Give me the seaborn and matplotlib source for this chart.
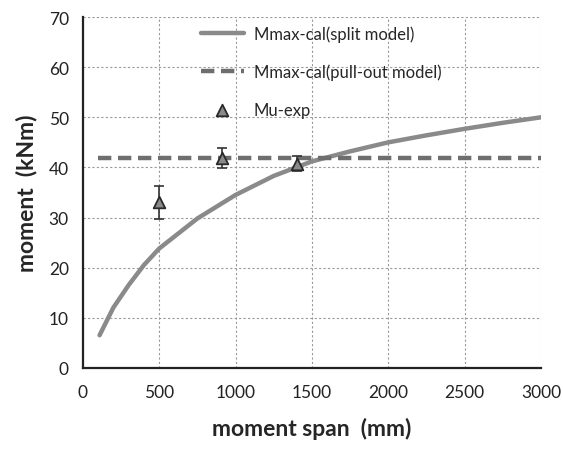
import matplotlib
matplotlib.use("Agg")
import matplotlib.pyplot as plt
import seaborn as sns
import pandas as pd

# split model curve
split_x = [110, 200, 300, 400, 500, 600, 750, 1000, 1250, 1500, 1750, 2000, 2250, 2500, 2750, 3000]
split_y = [6.5, 12.0, 16.5, 20.5, 23.8, 26.2, 29.8, 34.5, 38.3, 41.2, 43.2, 45.0, 46.4, 47.7, 48.9, 50.0]
# pull-out model (constant)
pull_x = [100, 3000]
pull_y = [41.8, 41.8]
# experiments
exp_x = [500, 910, 1400]
exp_y = [33.0, 41.8, 40.7]
exp_err = [3.2, 2.0, 1.5]

sns.set_style("white")
plt.rcParams['font.family'] = ['Lato', 'DejaVu Sans']

fig = plt.figure(figsize=(5.63, 4.52), dpi=100)
ax = fig.add_axes([0.147, 0.184, 0.814, 0.776])

sns.lineplot(x=split_x, y=split_y, ax=ax, color="#8a8a8a", linewidth=3.2,
             label="Mmax-cal(split model)")
sns.lineplot(x=pull_x, y=pull_y, ax=ax, color="#6e6e6e", linewidth=3.2,
             linestyle=(0, (3, 1.5)), label="Mmax-cal(pull-out model)")
ax.errorbar(exp_x, exp_y, yerr=exp_err, fmt="none", ecolor="#333333",
            elinewidth=1.2, capsize=3.5, capthick=1.2)
sns.scatterplot(x=exp_x, y=exp_y, ax=ax, marker="^", s=70, color="#8a8a8a",
                edgecolor="#2a2a2a", linewidth=1.3, label="Mu-exp", zorder=5)

ax.set_xlim(0, 3000)
ax.set_ylim(0, 70)
ax.set_xticks(range(0, 3001, 500))
ax.set_yticks(range(0, 71, 10))
ax.grid(True, linestyle=(0, (2, 2)), color="#999999", linewidth=0.8)
for s in ["top", "right"]:
    ax.spines[s].set_visible(False)
for s in ["left", "bottom"]:
    ax.spines[s].set_color("#222222")
    ax.spines[s].set_linewidth(1.6)
ax.tick_params(direction="inout", length=8, width=1.4, labelsize=12.5,
               colors="#222222", pad=8)
ax.tick_params(axis="y", pad=6)
ax.set_xlabel("moment span  (mm)", fontsize=16.5, fontweight="bold", labelpad=12)
ax.set_ylabel("moment  (kNm)", fontsize=16.5, fontweight="bold", labelpad=8)

leg = ax.legend(loc="upper center", bbox_to_anchor=(0.52, 1.02), frameon=False,
                fontsize=12, labelspacing=1.3, handlelength=2.6, handletextpad=0.6)

fig.savefig("out.png", dpi=100)
